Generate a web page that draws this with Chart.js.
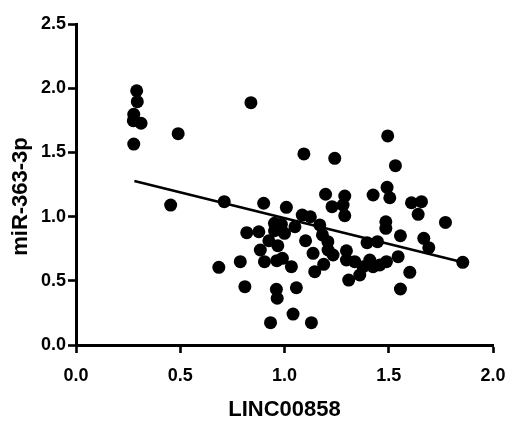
<!DOCTYPE html>
<html>
<head>
<meta charset="utf-8">
<script src="https://cdn.jsdelivr.net/npm/chart.js@4"></script>
<style>
html,body{margin:0;padding:0;background:#fff;}
#c{display:block;}
</style>
</head>
<body>
<canvas id="c" width="508" height="421"></canvas>
<script>
// LINC00858 expression (x) for each sample
const linc00858 = [
  0.291, 0.294, 0.277, 0.275, 0.312, 0.277, 0.490, 0.839, 0.454, 0.711,
  0.900, 1.009, 1.495, 1.093, 1.241, 1.532, 1.197, 1.289, 1.425, 1.492,
  1.505, 1.609, 1.657, 1.228, 1.281, 1.641, 1.085, 1.124, 1.289, 1.169,
  0.985, 1.000, 1.050, 1.182, 1.208, 1.101, 1.137, 1.209, 1.233, 0.990,
  1.033, 1.188, 1.145, 1.057, 0.961, 0.965, 1.041, 1.129, 1.486, 1.486,
  1.772, 1.556, 1.396, 1.446, 1.668, 1.692, 1.297, 1.297, 1.337, 1.377,
  1.361, 1.308, 1.409, 1.425, 1.457, 1.489, 1.545, 1.601, 1.556, 1.855,
  0.952, 0.819, 0.877, 0.925, 0.968, 0.884, 0.788, 0.904, 0.963, 0.685,
  0.810, 0.933, 0.952
];
// miR-363-3p expression (y) for each sample
const mir363 = [
  1.980, 1.895, 1.797, 1.747, 1.727, 1.565, 1.646, 1.887, 1.090, 1.116,
  1.104, 1.072, 1.628, 1.488, 1.454, 1.397, 1.174, 1.160, 1.168, 1.228,
  1.147, 1.108, 1.116, 1.077, 1.090, 1.018, 1.012, 0.999, 1.007, 0.935,
  0.940, 0.870, 0.921, 0.857, 0.805, 0.812, 0.714, 0.740, 0.701, 0.675,
  0.610, 0.628, 0.571, 0.446, 0.434, 0.364, 0.241, 0.174, 0.960, 0.909,
  0.955, 0.851, 0.797, 0.805, 0.831, 0.758, 0.734, 0.662, 0.649, 0.610,
  0.545, 0.506, 0.662, 0.610, 0.623, 0.649, 0.688, 0.566, 0.436, 0.644,
  0.948, 0.875, 0.882, 0.812, 0.773, 0.740, 0.649, 0.649, 0.657, 0.605,
  0.454, 0.174, 0.890
];
// Regression line end points
const fitX = [0.28, 1.855];
const fitY = [1.277, 0.644];
// Axis ticks
const xTicks = [0.0, 0.5, 1.0, 1.5, 2.0];
const yTicks = [0.0, 0.5, 1.0, 1.5, 2.0, 2.5];
// Axis titles
const xTitle = 'LINC00858';
const yTitle = 'miR-363-3p';

const points = linc00858.map((x, i) => ({x: x, y: mir363[i]}));
const fitLine = fitX.map((x, i) => ({x: x, y: fitY[i]}));

const FONT = "'Liberation Sans', Arial, sans-serif";

// Draws the y-axis title slightly below the axis centre, as in the original figure
const yTitlePlugin = {
  id: 'yTitle',
  afterDraw(chart) {
    const {ctx, chartArea} = chart;
    ctx.save();
    ctx.fillStyle = '#000';
    ctx.font = "bold 22px " + FONT;
    ctx.textAlign = 'center';
    ctx.textBaseline = 'middle';
    ctx.translate(21, (chartArea.top + chartArea.bottom) / 2 + 12);
    ctx.rotate(-Math.PI / 2);
    ctx.fillText(yTitle, 0, 0);
    ctx.restore();
  }
};

new Chart(document.getElementById('c'), {
  type: 'scatter',
  data: {
    datasets: [
      {
        type: 'line',
        data: fitLine,
        borderColor: '#000',
        borderWidth: 2.6,
        pointRadius: 0,
        fill: false,
        order: 2
      },
      {
        data: points,
        backgroundColor: '#000',
        borderColor: '#000',
        borderWidth: 0,
        pointRadius: 6.5,
        order: 1
      }
    ]
  },
  plugins: [yTitlePlugin],
  options: {
    responsive: false,
    animation: false,
    devicePixelRatio: 1,
    layout: { padding: { top: 24, right: 15, left: 0, bottom: 0 } },
    plugins: { legend: { display: false }, tooltip: { enabled: false } },
    scales: {
      x: {
        type: 'linear',
        min: xTicks[0],
        max: xTicks[xTicks.length - 1],
        afterBuildTicks: (s) => { s.ticks = xTicks.map(v => ({value: v})); },
        afterFit: (s) => { s.height = 76; s.paddingLeft = 0; s.paddingRight = 0; },
        border: { display: true, color: '#000', width: 3 },
        grid: { display: true, drawOnChartArea: false, drawTicks: true, tickLength: 8, tickWidth: 2.6, tickColor: '#000' },
        ticks: {
          color: '#000',
          padding: 12,
          maxRotation: 0,
          font: { family: FONT, size: 18, weight: 'bold' },
          callback: (v) => Number(v).toFixed(1)
        },
        title: {
          display: true,
          text: xTitle,
          color: '#000',
          padding: { top: 0, bottom: 0 },
          font: { family: FONT, size: 22, weight: 'bold', lineHeight: 1.0 }
        }
      },
      y: {
        type: 'linear',
        min: yTicks[0],
        max: yTicks[yTicks.length - 1],
        afterBuildTicks: (s) => { s.ticks = yTicks.map(v => ({value: v})); },
        afterFit: (s) => { s.width = 76; s.paddingTop = 0; s.paddingBottom = 0; },
        border: { display: true, color: '#000', width: 3 },
        grid: { display: true, drawOnChartArea: false, drawTicks: true, tickLength: 8, tickWidth: 2.6, tickColor: '#000' },
        ticks: {
          color: '#000',
          padding: 2,
          font: { family: FONT, size: 18, weight: 'bold' },
          callback: (v) => Number(v).toFixed(1)
        },
        title: { display: false }
      }
    }
  }
});
</script>
</body>
</html>
